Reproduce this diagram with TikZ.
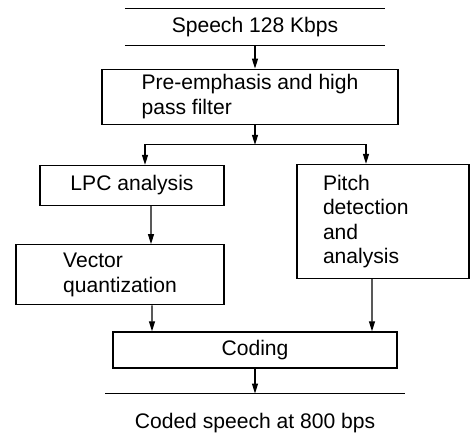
\documentclass[tikz,border=0pt]{standalone}
\usepackage{fontspec}
\setmainfont{Liberation Sans}
\usepackage{tikz}
\usetikzlibrary{arrows.meta, positioning}

\begin{document}
\begin{tikzpicture}[
        font=\fontsize{12}{14}\selectfont,
        line width=0.7pt,
        box/.style={draw, align=left, inner sep=0pt},
        bar/.style={inner sep=0pt, align=center},
        arrow/.style={-{Triangle[length=2mm, width=1.2mm]}}
    ]
    \useasboundingbox (0,0) rectangle (9.4,-8.68);

    % Nodes
    \node[bar, minimum width=5.18cm, minimum height=0.72cm] (speech) at (5.10,-0.54) {Speech 128 Kbps};
    \node[box, minimum width=5.92cm, minimum height=1.1cm, below=0.46cm of speech, xshift=-0.1cm] (pre) {Pre-emphasis and high\\pass filter};

    \node[box, align=center, minimum width=3.68cm, minimum height=0.8cm, below=0.8cm of pre, xshift=-2.36cm] (lpc) {LPC analysis};
    \node[box, minimum width=4.16cm, minimum height=1.2cm, below=0.76cm of lpc, xshift=-0.24cm] (vq) {Vector\\quantization};

    \node[box, text width=2.4cm, inner xsep=0.52cm, minimum height=2.28cm, below=0.78cm of pre, xshift=2.66cm] (pitch) {Pitch\\detection\\and\\analysis};

    \node[box, align=center, minimum width=5.68cm, minimum height=0.72cm, below=0.52cm of vq, xshift=2.70cm] (coding) {Coding};
    \node[bar, minimum width=5.96cm, minimum height=1.16cm, below=0.5cm of coding] (out) {Coded speech at 800 bps};

    % Rules
    \draw (speech.north west) -- (speech.north east);
    \draw (speech.south west) -- (speech.south east);
    \draw (out.north west) -- (out.north east);

    % Arrows
    \draw[arrow] (speech.south) -- (speech.south |- pre.north);
    \path (pre.south -| speech.south) ++(0,-0.4) coordinate (split);
    \draw[arrow] (pre.south -| speech.south) -- (split);
    \draw[arrow] (split) -| ([xshift=0.26cm]lpc.north);
    \draw[arrow] (split) -| ([xshift=-0.34cm]pitch.north);

    \draw[arrow] ([xshift=0.38cm]lpc.south) -- ([xshift=0.62cm]vq.north);
    \draw[arrow] ([xshift=0.64cm]vq.south) -- ([xshift=-2.06cm]coding.north);
    \draw[arrow] ([xshift=-0.22cm]pitch.south) -- ([xshift=2.34cm]coding.north);

    % Output
    \draw[arrow] (coding.south) -- (out.north);

\end{tikzpicture}
\end{document}
